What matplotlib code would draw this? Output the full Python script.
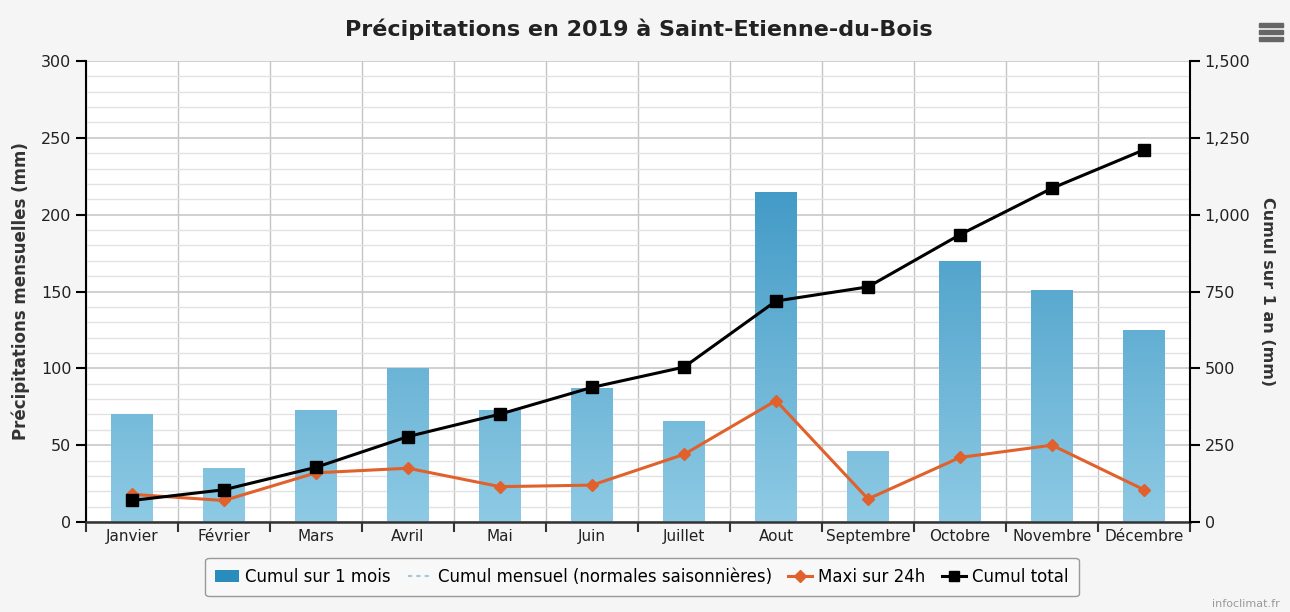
import numpy as np
import matplotlib.pyplot as plt
from matplotlib.lines import Line2D
from matplotlib.patches import Rectangle
from matplotlib.colors import LinearSegmentedColormap
from matplotlib.ticker import FuncFormatter

mois = ['Janvier', 'Février', 'Mars', 'Avril', 'Mai', 'Juin', 'Juillet', 'Aout',
        'Septembre', 'Octobre', 'Novembre', 'Décembre']
cumul_mois = [70, 35, 73, 100, 73, 87, 66, 215, 46, 170, 151, 125]
maxi_24h = [18, 14, 32, 35, 23, 24, 44, 79, 15, 42, 50, 21]
cumul_total = [70, 105, 178, 278, 351, 438, 504, 719, 765, 935, 1086, 1211]

plt.rcParams['font.family'] = ['DejaVu Sans']

fig = plt.figure(figsize=(12.9, 6.12), dpi=100, facecolor='#f5f5f5')
ax = fig.add_axes([86 / 1290, 90 / 612, 1104 / 1290, 461 / 612])
ax.set_facecolor('white')

x = np.arange(len(mois))

# bars with vertical gradient
cmap = LinearSegmentedColormap.from_list('grad', ['#8ecae4', '#2588bb'])
grad = np.linspace(0, 1, 256).reshape(-1, 1)
bars = ax.bar(x, cumul_mois, width=0.45, color='none', zorder=2)
for b in bars:
    im = ax.imshow(grad, cmap=cmap, origin='lower', aspect='auto',
                   extent=(-0.5, 11.5, 0, 300), zorder=2)
    im.set_clip_path(b)

ax.plot(x, maxi_24h, color='#e0612b', lw=2.2, marker='D', ms=6, zorder=4)

ax.set_xlim(-0.5, 11.5)
ax.set_ylim(0, 300)

# grid
ax.set_yticks(np.arange(0, 301, 50))
ax.set_yticks(np.arange(0, 301, 10), minor=True)
ax.grid(axis='y', which='major', color='#c8c8c8', lw=1.2, zorder=0)
ax.grid(axis='y', which='minor', color='#e2e2e2', lw=1.0, zorder=0)
ax.set_xticks(np.arange(-0.5, 12, 1))
ax.set_xticklabels([])
ax.set_xticks(x, minor=True)
ax.set_xticklabels(mois, minor=True)
ax.grid(axis='x', which='major', color='#c4c4c4', lw=1.0, zorder=0)
ax.set_axisbelow(True)

ax.tick_params(axis='x', which='major', direction='out', length=7, width=1.5, color='#333333')
ax.tick_params(axis='x', which='minor', length=0, labelsize=11, pad=5, labelcolor='#222222')
ax.tick_params(axis='y', which='major', direction='out', length=7, width=1.5,
               labelsize=11.5, labelcolor='#222222')
ax.tick_params(axis='y', which='minor', length=0)

for s in ['top', 'right']:
    ax.spines[s].set_visible(False)
ax.spines['left'].set_linewidth(1.5)
ax.spines['bottom'].set_linewidth(1.8)
ax.spines['bottom'].set_color('#333333')

ax.set_ylabel('Précipitations mensuelles (mm)', fontsize=12, fontweight='bold',
              color='#333333', labelpad=8)

ax2 = ax.twinx()
ax2.plot(x, cumul_total, color='black', lw=2.2, marker='s', ms=8, zorder=5)
ax2.set_ylim(0, 1500)
ax2.set_yticks(np.arange(0, 1501, 250))
ax2.yaxis.set_major_formatter(FuncFormatter(lambda v, p: f'{int(v):,}'))
ax2.tick_params(axis='y', direction='out', length=7, width=1.5, labelsize=11.5,
                labelcolor='#222222')
for s in ['top', 'left', 'bottom']:
    ax2.spines[s].set_visible(False)
ax2.spines['right'].set_linewidth(1.5)
ax2.set_ylabel('Cumul sur 1 an (mm)', fontsize=11.5, fontweight='bold', color='#333333',
               rotation=-90, labelpad=18)

fig.text(0.495, 1 - 29 / 612, 'Précipitations en 2019 à Saint-Etienne-du-Bois',
         ha='center', va='center', fontsize=16, fontweight='bold', color='#222222')

# menu icon
for yy in [25, 32, 39]:
    fig.patches.append(Rectangle((1259 / 1290, 1 - (yy + 2) / 612), 24 / 1290, 4 / 612,
                                 transform=fig.transFigure, color='#666666'))

handles = [
    Rectangle((0, 0), 1, 1, facecolor='#2a8bbd', edgecolor='none'),
    Line2D([], [], color='#9ccbe0', lw=1.5, ls=(0, (2, 2))),
    Line2D([], [], color='#e0612b', lw=2.2, marker='D', ms=6),
    Line2D([], [], color='black', lw=2.2, marker='s', ms=7),
]
labels = ['Cumul sur 1 mois', 'Cumul mensuel (normales saisonnières)',
          'Maxi sur 24h', 'Cumul total']
leg = fig.legend(handles, labels, loc='center', bbox_to_anchor=(642 / 1290, 1 - 577 / 612),
                 ncol=4, fontsize=12, frameon=True, fancybox=True, edgecolor='#999999',
                 facecolor='#f8f8f8', handlelength=1.4, handletextpad=0.4, columnspacing=1.0,
                 borderpad=0.6)
leg.get_frame().set_linewidth(1.0)
leg.get_frame().set_alpha(1)

fig.text(1280 / 1290, 1 - 604 / 612, 'infoclimat.fr', ha='right', va='center',
         fontsize=8, color='#999999')

fig.savefig('out.png', dpi=100, facecolor=fig.get_facecolor())
